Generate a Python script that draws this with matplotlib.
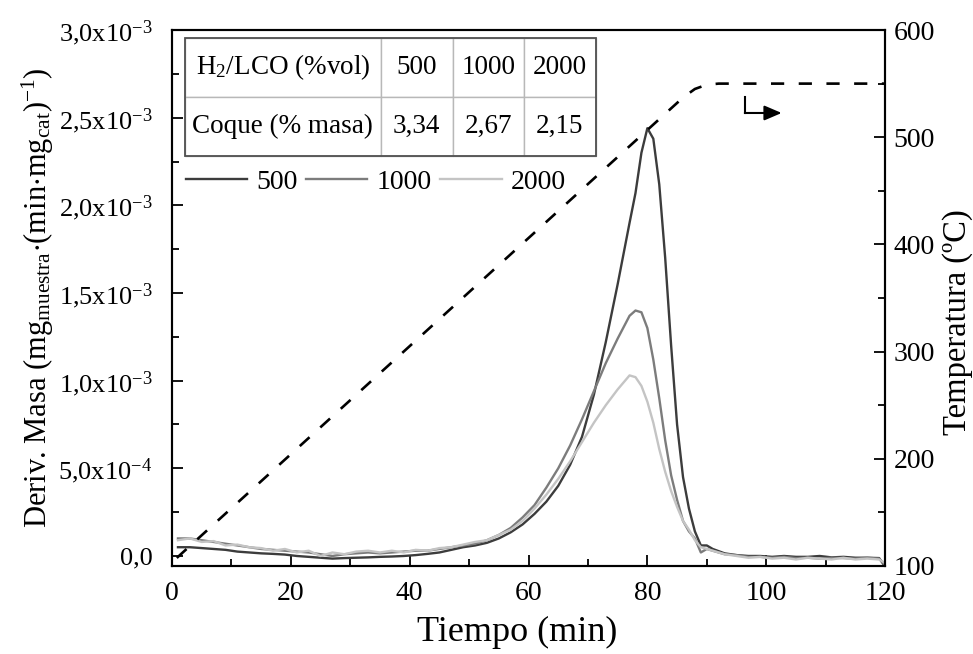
import numpy as np
import matplotlib
matplotlib.use("Agg")
import matplotlib.pyplot as plt
from matplotlib.ticker import MultipleLocator, FuncFormatter
from matplotlib.patches import Rectangle

plt.rcParams["font.family"] = ["Liberation Serif", "DejaVu Serif"]
plt.rcParams["mathtext.fontset"] = "custom"
plt.rcParams["mathtext.rm"] = "Liberation Serif"
plt.rcParams["mathtext.it"] = "Liberation Serif:italic"

# --- data (deriv. masa in units of 1e-3) ---
tiempo = [1, 3, 5, 7, 9, 11, 13, 15, 17, 19, 21, 23, 25, 27, 29, 31, 33, 35, 37, 39,
          41, 43, 45, 47, 49, 51, 53, 55, 57, 59, 61, 63, 65, 67, 69, 71, 73, 75, 77,
          78, 79, 80, 81, 82, 83, 84, 85, 86, 87, 88, 89, 90, 91,
          93, 95, 97, 99, 101, 103, 105, 107, 109, 111, 113, 115, 117, 119, 120]

dm_500 = [0.05, 0.05, 0.045, 0.04, 0.035, 0.025, 0.02, 0.015, 0.012, 0.008, 0.0, -0.005,
          -0.01, -0.015, -0.012, -0.01, -0.008, -0.005, -0.003, 0.0, 0.005, 0.012, 0.02,
          0.035, 0.05, 0.06, 0.075, 0.10, 0.135, 0.18, 0.24, 0.31, 0.40, 0.52, 0.68, 0.92,
          1.22, 1.55, 1.90,
          2.07, 2.30, 2.44, 2.38, 2.12, 1.70, 1.20, 0.75, 0.45, 0.27, 0.14, 0.06, 0.06, 0.04,
          0.015, 0.005, 0.0, 0.0, -0.005, 0.0, -0.005, -0.005, 0.0, -0.008, -0.005, -0.01,
          -0.01, -0.012, -0.06]

dm_1000 = [0.10, 0.10, 0.09, 0.08, 0.07, 0.06, 0.05, 0.04, 0.035, 0.03, 0.025, 0.02,
           0.01, 0.0, 0.01, 0.015, 0.02, 0.015, 0.02, 0.025, 0.03, 0.03, 0.04, 0.05, 0.06,
           0.07, 0.09, 0.12, 0.16, 0.22, 0.29, 0.39, 0.50, 0.63, 0.78, 0.94, 1.10, 1.24,
           1.37,
           1.40, 1.39, 1.30, 1.12, 0.90, 0.66, 0.46, 0.32, 0.20, 0.14, 0.10, 0.02, 0.04, 0.03,
           0.01, 0.005, -0.005, -0.005, -0.01, -0.005, -0.012, -0.01, -0.015, -0.01, -0.012,
           -0.015, -0.01, -0.015, -0.05]

dm_2000 = [0.09, 0.10, 0.08, 0.085, 0.06, 0.065, 0.05, 0.045, 0.03, 0.04, 0.02, 0.03,
           0.0, 0.02, 0.01, 0.025, 0.03, 0.02, 0.03, 0.02, 0.035, 0.03, 0.045, 0.05, 0.065,
           0.08, 0.09, 0.12, 0.15, 0.20, 0.27, 0.35, 0.44, 0.54, 0.65, 0.76, 0.86, 0.95,
           1.03,
           1.02, 0.97, 0.88, 0.76, 0.61, 0.48, 0.37, 0.28, 0.20, 0.15, 0.09, 0.05, 0.04, 0.03,
           0.01, 0.0, -0.01, -0.005, -0.015, -0.01, -0.02, -0.01, -0.015, -0.02, -0.01,
           -0.02, -0.015, -0.02, -0.04]

t_temp = [0.8, 86, 88, 90, 92, 120]
temp = [107.5, 537, 545, 549, 550, 550]

ratios = ["500", "1000", "2000"]
coque = ["3,34", "2,67", "2,15"]
colores = ["#3c3c3c", "#7c7c7c", "#c4c4c4"]


def sci_comma(v, pos):
    if abs(v) < 1e-12:
        return "0,0"
    e = int(np.floor(np.log10(abs(v)) + 1e-9))
    m = v / 10 ** e
    return f"{m:.1f}".replace(".", ",") + r"x10$^{\mathregular{" + str(e) + "}}$"


fig = plt.figure(figsize=(9.73, 6.54), dpi=100)
ax = fig.add_axes([0.1768, 0.1346, 0.7328, 0.8195])
ax2 = ax.twinx()

t = np.array(tiempo)
for vals, lab, c in zip([dm_500, dm_1000, dm_2000], ratios, colores):
    ax.plot(t, np.array(vals) * 1e-3, color=c, lw=1.7, label=lab)

ax2.plot(t_temp, temp, color="black", lw=1.9, ls=(0, (5, 5.5)))
ax2.plot([96.5, 96.5], [537.5, 522.6], color="black", lw=1.5)
ax2.annotate("", xy=(102.6, 522.6), xytext=(96.4, 522.6),
             arrowprops=dict(arrowstyle="-|>,head_length=0.7,head_width=0.3",
                             mutation_scale=15, color="black", lw=1.5,
                             shrinkA=0, shrinkB=0))

ax.set_xlim(0, 120)
ax.set_ylim(-0.057e-3, 3.0e-3)
ax2.set_ylim(100, 600)

ax.xaxis.set_major_locator(MultipleLocator(20))
ax.xaxis.set_minor_locator(MultipleLocator(10))
ax.yaxis.set_major_locator(MultipleLocator(0.5e-3))
ax.yaxis.set_minor_locator(MultipleLocator(0.25e-3))
ax.yaxis.set_major_formatter(FuncFormatter(sci_comma))
ax2.yaxis.set_major_locator(MultipleLocator(100))
ax2.yaxis.set_minor_locator(MultipleLocator(50))

for a in (ax, ax2):
    a.tick_params(which="major", direction="in", length=8, width=1.3, labelsize=20)
    a.tick_params(which="minor", direction="in", length=5, width=1.3)
    for s in a.spines.values():
        s.set_linewidth(1.5)
ax.tick_params(axis="x", pad=11)
ax.tick_params(axis="y", pad=14, labelsize=19)
ax2.tick_params(axis="y", pad=6)

ax.set_xlabel("Tiempo (min)", fontsize=26)
ax.xaxis.set_label_coords(0.484, -0.093)
ax.set_ylabel(r"Deriv. Masa (mg$_{\mathregular{muestra}}$$\mathregular{\cdot}$(min$\mathregular{\cdot}$mg$_{\mathregular{cat}}$)$^{\mathregular{-1}}$)",
              fontsize=22, labelpad=2)
ax2.set_ylabel("Temperatura (ºC)", fontsize=23.5)
ax2.yaxis.set_label_coords(1.08, 0.455)

# table of coke content
tab = ax.table(cellText=[[r"H$_{\mathregular{2}}$/LCO (%vol)"] + ratios,
                         ["Coque (% masa)"] + coque],
               cellLoc="center", colWidths=[0.477, 0.175, 0.173, 0.175],
               bbox=[0.018, 0.765, 0.576, 0.22])
tab.auto_set_font_size(False)
for cell in tab.get_celld().values():
    cell.set_edgecolor("#b8b8b8")
    cell.set_linewidth(1.0)
    cell.get_text().set_fontsize(19.5)
ax.add_patch(Rectangle((0.018, 0.765), 0.576, 0.22, transform=ax.transAxes,
                       fill=False, edgecolor="#505050", lw=1.3, zorder=5))

ax.legend(loc="center left", bbox_to_anchor=(0.019, 0.716), ncol=3, frameon=False,
          fontsize=20, handlelength=2.2, handletextpad=0.35, columnspacing=0.3,
          borderaxespad=0, borderpad=0)

fig.savefig("out.png", dpi=100)
